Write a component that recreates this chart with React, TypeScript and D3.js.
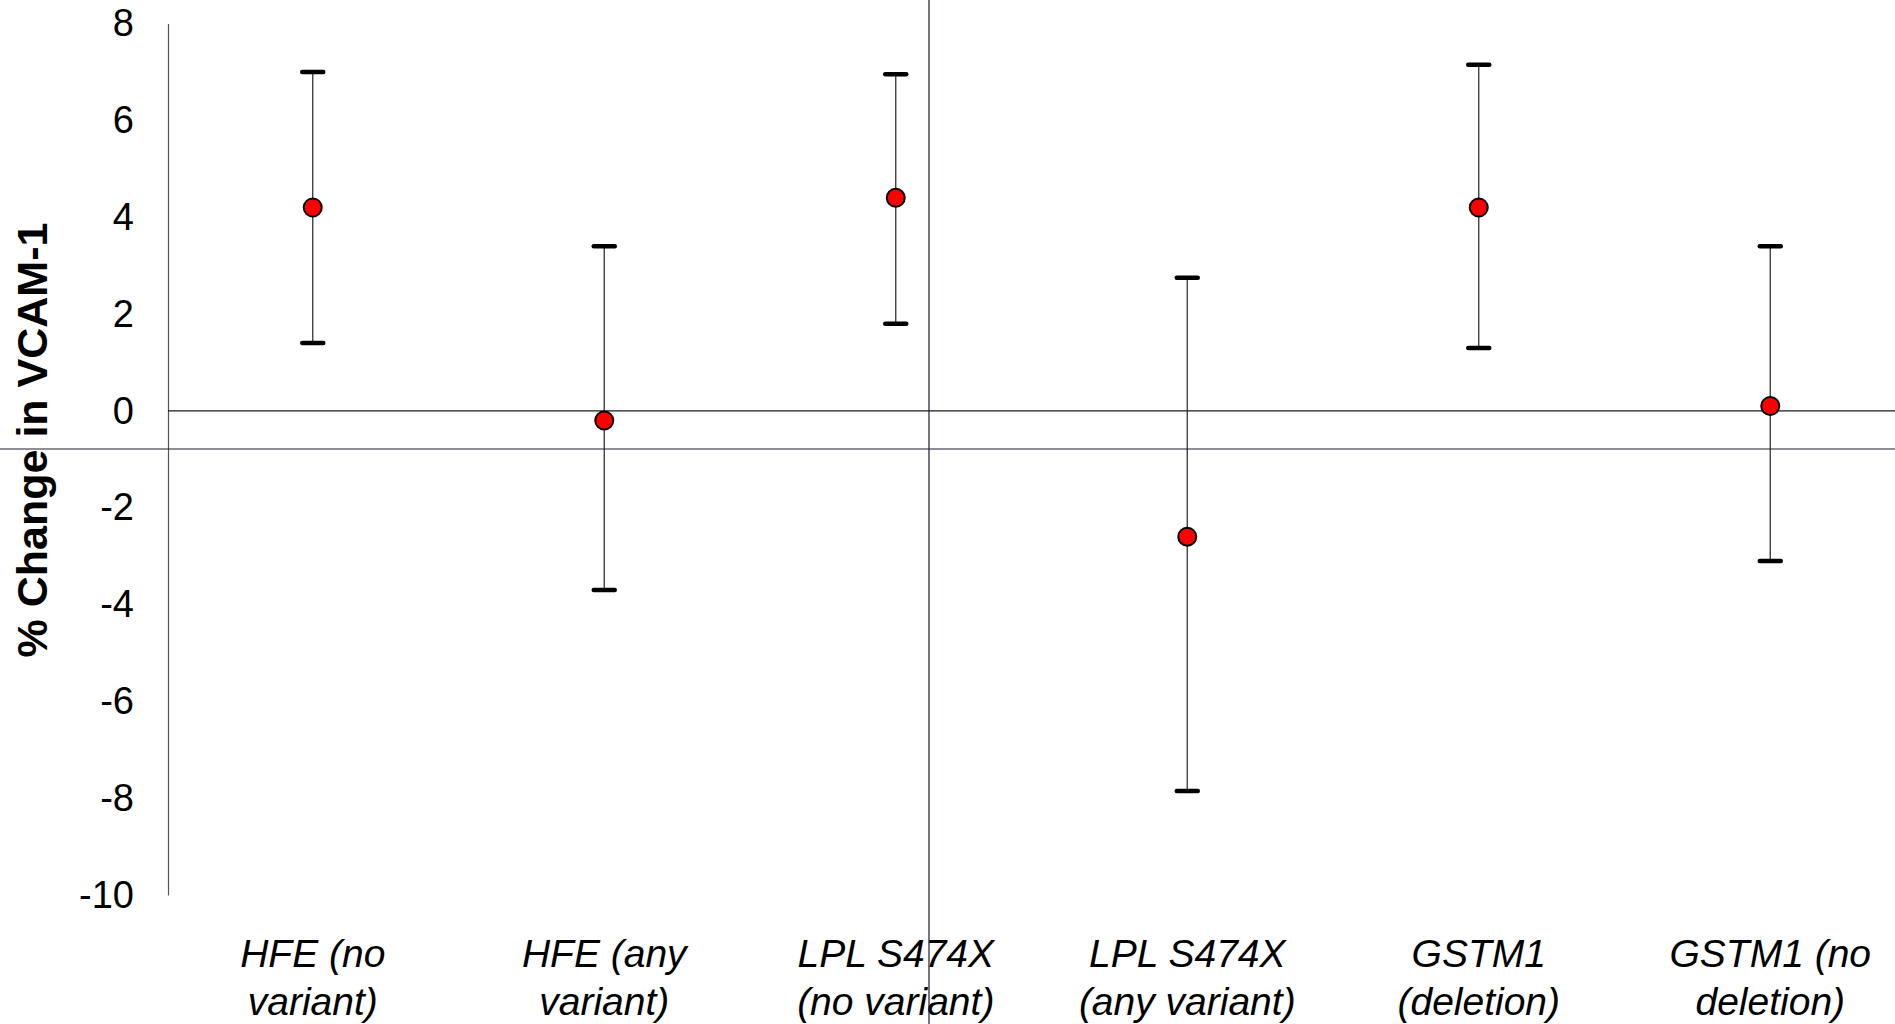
import { useEffect, useRef } from "react";
import * as d3 from "d3";

// genotype groups, two lines per label
const groups = [
  ["HFE (no", "variant)"],
  ["HFE (any", "variant)"],
  ["LPL S474X", "(no variant)"],
  ["LPL S474X", "(any variant)"],
  ["GSTM1", "(deletion)"],
  ["GSTM1 (no", "deletion)"],
];
const estimates = [4.2, -0.2, 4.4, -2.6, 4.2, 0.1];
const lowerCI = [1.4, -3.7, 1.8, -7.85, 1.3, -3.1];
const upperCI = [7.0, 3.4, 6.95, 2.75, 7.15, 3.4];
const yTicks = [8, 6, 4, 2, 0, -2, -4, -6, -8, -10];

const W = 1895;
const H = 1024;
const FONT = "'Liberation Sans', Arial, Helvetica, sans-serif";

const App = () => {
  const svgRef = useRef<SVGSVGElement>(null);

  useEffect(() => {
    const svg = d3.select(svgRef.current).attr("width", W).attr("height", H);
    svg.selectAll("*").remove();

    const rows = groups.map((g, i) => ({
      key: g.join(" "),
      lines: g,
      est: estimates[i],
      lo: lowerCI[i],
      hi: upperCI[i],
    }));

    // plot runs past the right edge of the picture
    const x = d3
      .scaleBand()
      .domain(rows.map((d) => d.key))
      .range([167, 1916]);
    const cx = (k: string) => (x(k) as number) + x.bandwidth() / 2;

    const y = d3.scaleLinear().domain([-10, 8]).range([895, 23.5]);

    svg.append("rect").attr("width", W).attr("height", H).attr("fill", "#fff");

    // y axis, no tick marks, plain hyphen for negatives
    const yAxis = svg
      .append("g")
      .attr("transform", "translate(168,0)")
      .call(
        d3
          .axisLeft(y)
          .tickValues(yTicks)
          .tickSize(0)
          .tickPadding(34)
          .tickFormat((d) => String(d))
      );
    yAxis.select(".domain").attr("stroke", "#555").attr("stroke-width", 1.2);
    yAxis
      .selectAll("text")
      .attr("font-family", FONT)
      .attr("font-size", 38)
      .attr("fill", "#000");

    // zero line
    svg
      .append("line")
      .attr("x1", 168)
      .attr("x2", W)
      .attr("y1", y(0))
      .attr("y2", y(0))
      .attr("stroke", "#1a1a1a")
      .attr("stroke-width", 1.2);

    // y title
    svg
      .append("text")
      .attr("transform", `translate(47,440) rotate(-90)`)
      .attr("text-anchor", "middle")
      .attr("font-family", FONT)
      .attr("font-weight", "bold")
      .attr("font-size", 43)
      .text("% Change in VCAM-1");

    // category labels
    const lab = svg
      .append("g")
      .selectAll("text")
      .data(rows)
      .enter()
      .append("text")
      .attr("text-anchor", "middle")
      .attr("font-family", FONT)
      .attr("font-style", "italic")
      .attr("font-size", 39)
      .attr("transform", (d) => `translate(${cx(d.key)},0)`);
    lab
      .selectAll("tspan")
      .data((d) => d.lines)
      .enter()
      .append("tspan")
      .attr("x", 0)
      .attr("y", (_d, i) => 967 + i * 48)
      .text((d) => d);

    // error bars
    const bars = svg.append("g").selectAll("g").data(rows).enter().append("g");
    bars
      .append("line")
      .attr("x1", (d) => cx(d.key))
      .attr("x2", (d) => cx(d.key))
      .attr("y1", (d) => y(d.hi))
      .attr("y2", (d) => y(d.lo))
      .attr("stroke", "#333")
      .attr("stroke-width", 1.3);
    ["hi", "lo"].forEach((k) => {
      bars
        .append("line")
        .attr("x1", (d) => cx(d.key) - 10.5)
        .attr("x2", (d) => cx(d.key) + 10.5)
        .attr("y1", (d: any) => y(d[k]))
        .attr("y2", (d: any) => y(d[k]))
        .attr("stroke", "#000")
        .attr("stroke-width", 4.5)
        .attr("stroke-linecap", "round");
    });
    bars
      .append("circle")
      .attr("cx", (d) => cx(d.key))
      .attr("cy", (d) => y(d.est))
      .attr("r", 9)
      .attr("fill", "#ff0000")
      .attr("stroke", "#000")
      .attr("stroke-width", 2);

    // cursor crosshair lines over the picture
    svg
      .append("line")
      .attr("x1", 929)
      .attr("x2", 929)
      .attr("y1", 0)
      .attr("y2", H)
      .attr("stroke", "#1c1c30")
      .attr("stroke-width", 1.2);
    svg
      .append("line")
      .attr("x1", 0)
      .attr("x2", W)
      .attr("y1", 449)
      .attr("y2", 449)
      .attr("stroke", "#1c1c30")
      .attr("stroke-width", 1.2);
  }, []);

  return <svg ref={svgRef} style={{ position: "absolute", left: 0, top: 0, display: "block" }}></svg>;
};

export default App;
